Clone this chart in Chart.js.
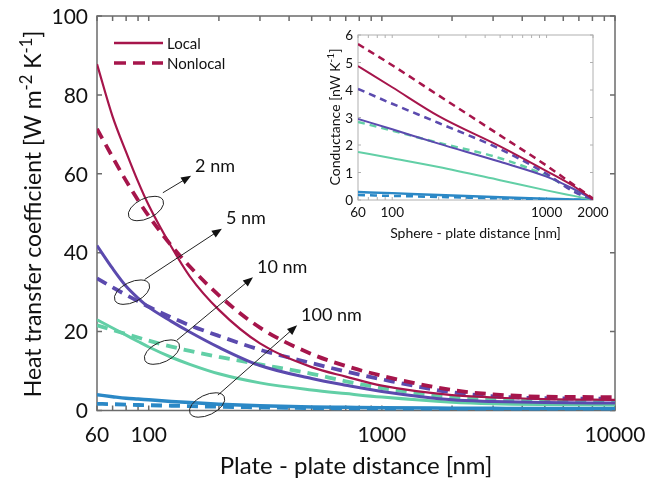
<!DOCTYPE html>
<html>
<head>
<meta charset="utf-8">
<script src="https://cdn.jsdelivr.net/npm/chart.js@4.4.1/dist/chart.umd.min.js"></script>
<style>
  body { margin: 0; background: #fff; }
  #wrap { position: relative; width: 650px; height: 483px; }
  #main { position: absolute; left: 0; top: 0; }
  #inset { position: absolute; left: 318px; top: 20px; }
</style>
</head>
<body>
<div id="wrap">
  <canvas id="main" width="650" height="483"></canvas>
  <canvas id="inset" width="332" height="228"></canvas>
</div>
<script>
// plate - plate distance [nm] and heat transfer coefficient [W m-2 K-1]
const distPlate = [60, 70, 80, 90, 100, 125, 150, 200, 300, 500, 700, 1000, 2000, 3000, 5000, 10000];
const local2nm    = [87.8, 74.5, 65.5, 58, 52, 41.5, 34, 25.5, 17, 11, 8.6, 6.3, 3.9, 3.3, 2.9, 2.7];
const nonlocal2nm = [71.4, 64.2, 58.2, 53.3, 49.3, 41.8, 36.5, 29.2, 21, 14.3, 11.3, 8.8, 5.2, 4.1, 3.5, 3.4];
const local5nm    = [41.8, 36, 31.5, 28.5, 26.2, 22.6, 19.9, 16, 11.4, 8.1, 6.4, 4.8, 2.7, 2.3, 2.0, 1.9];
const nonlocal5nm = [33.5, 31.2, 29.3, 27.7, 26.3, 23.6, 21.6, 18.9, 15.4, 12.0, 9.9, 7.9, 4.6, 3.6, 3.1, 3.0];
const local10nm    = [23, 20.9, 19.1, 17.5, 16.1, 13.5, 11.7, 9.3, 7.0, 5.2, 4.3, 3.4, 2.1, 1.7, 1.5, 1.4];
const nonlocal10nm = [21.6, 20.4, 19.4, 18.5, 17.7, 16.2, 15.1, 13.6, 11.7, 9.3, 7.4, 5.7, 3.4, 2.8, 2.5, 2.3];
const local100nm    = [4.0, 3.5, 3.1, 2.9, 2.7, 2.3, 2.0, 1.6, 1.2, 0.9, 0.8, 0.7, 0.6, 0.55, 0.5, 0.5];
const nonlocal100nm = [1.7, 1.6, 1.5, 1.4, 1.35, 1.2, 1.1, 0.95, 0.8, 0.6, 0.5, 0.45, 0.35, 0.3, 0.3, 0.3];

// sphere - plate distance [nm] and conductance [nW K-1]
const distSphere = [60, 100, 200, 500, 1000, 1500, 2000];
const gLocal2nm    = [4.87, 4.1, 3.05, 1.95, 1.05, 0.5, 0.03];
const gNonlocal2nm = [5.67, 4.9, 3.8, 2.35, 1.25, 0.55, 0.05];
const gLocal5nm    = [2.95, 2.57, 2.05, 1.39, 0.85, 0.4, 0.02];
const gNonlocal5nm = [4.04, 3.5, 2.8, 1.85, 0.95, 0.3, 0.02];
const gLocal10nm    = [1.75, 1.52, 1.2, 0.72, 0.35, 0.15, 0.01];
const gNonlocal10nm = [2.84, 2.52, 2.08, 1.52, 0.88, 0.35, 0.02];
const gLocal100nm    = [0.29, 0.25, 0.18, 0.1, 0.05, 0.02, 0];
const gNonlocal100nm = [0.18, 0.15, 0.11, 0.06, 0.03, 0.01, 0];

const sizes = ['2 nm', '5 nm', '10 nm', '100 nm'];
const colors = ['#a6154b', '#5b4aae', '#62cfa6', '#2b88c6'];
const mainSolidWidth = [2.2, 3, 3, 3.5];
const insetSolidWidth = [2, 2, 2, 2.5];

// ticks
const plateTicks = [60, 70, 80, 90, 100, 200, 300, 400, 500, 600, 700, 800, 900, 1000,
  2000, 3000, 4000, 5000, 6000, 7000, 8000, 9000, 10000];
const plateLabels = [60, 100, 1000, 10000];
const hTicks = [0, 20, 40, 60, 80, 100];
const sphereTicks = [60, 70, 80, 90, 100, 200, 300, 400, 500, 600, 700, 800, 900, 1000, 2000];
const sphereLabels = [60, 100, 1000, 2000];
const gTicks = [0, 1, 2, 3, 4, 5, 6];

// arrow annotations in data coords: ring centre, arrow tail, arrow head
const ringAt = [[97.3, 51.2], [84.8, 30], [114, 14.8], [178, 1.4]];
const arrowFrom = [[115, 55.2], [96, 33.2], [132, 17.8], [198, 3.9]];
const arrowTo = [[152, 59.5], [206, 46.1], [280, 33.8], [433, 21.6]];

Chart.defaults.font.family = 'Lato';
Chart.defaults.color = '#111';

const plateLocal = [local2nm, local5nm, local10nm, local100nm];
const plateNonlocal = [nonlocal2nm, nonlocal5nm, nonlocal10nm, nonlocal100nm];
const sphereLocal = [gLocal2nm, gLocal5nm, gLocal10nm, gLocal100nm];
const sphereNonlocal = [gNonlocal2nm, gNonlocal5nm, gNonlocal10nm, gNonlocal100nm];

function makeSets(xs, locals, nonlocals, wSolid, wDash, dash) {
  var sets = [];
  sizes.forEach((s, i) => {
    sets.push({
      label: s + ' local',
      data: xs.map((x, k) => ({x: x, y: locals[i][k]})),
      borderColor: colors[i], borderWidth: wSolid[i], pointRadius: 0,
      cubicInterpolationMode: 'monotone'
    });
    sets.push({
      label: s + ' nonlocal',
      data: xs.map((x, k) => ({x: x, y: nonlocals[i][k]})),
      borderColor: colors[i], borderWidth: wDash, borderDash: dash, pointRadius: 0,
      cubicInterpolationMode: 'monotone'
    });
  });
  return sets;
}

// frame, inward ticks and tick labels
const frameTicks = {
  id: 'frameTicks',
  beforeDatasetsDraw(chart, args, opts) {
    const {ctx, chartArea: a, scales: {x, y}} = chart;
    ctx.save();
    ctx.strokeStyle = opts.color;
    ctx.lineWidth = opts.width;
    ctx.strokeRect(a.left, a.top, a.right - a.left, a.bottom - a.top);
    ctx.beginPath();
    opts.xTicks.forEach(v => {
      const px = x.getPixelForValue(v);
      ctx.moveTo(px, a.bottom); ctx.lineTo(px, a.bottom - opts.len);
      ctx.moveTo(px, a.top); ctx.lineTo(px, a.top + opts.len);
    });
    opts.yTicks.forEach(v => {
      const py = y.getPixelForValue(v);
      ctx.moveTo(a.left, py); ctx.lineTo(a.left + opts.len, py);
      ctx.moveTo(a.right, py); ctx.lineTo(a.right - opts.len, py);
    });
    ctx.stroke();

    ctx.fillStyle = '#111';
    ctx.font = opts.fontSize + 'px Lato';
    ctx.textBaseline = 'middle';
    ctx.textAlign = 'center';
    opts.xLabels.forEach(v => {
      ctx.fillText(String(v), x.getPixelForValue(v), a.bottom + opts.xGap);
    });
    ctx.textAlign = 'right';
    opts.yTicks.forEach(v => {
      ctx.fillText(String(v), a.left - opts.yGap, y.getPixelForValue(v) + 1);
    });
    ctx.restore();
  }
};

// rotated y title with superscripts
const supTitle = {
  id: 'supTitle',
  afterDraw(chart, args, opts) {
    const ctx = chart.ctx;
    const sub = opts.size * 0.72;
    ctx.save();
    ctx.fillStyle = '#111';
    ctx.textBaseline = 'alphabetic';
    var w = 0;
    opts.parts.forEach(p => {
      ctx.font = (p[1] ? sub : opts.size) + 'px Lato';
      w += ctx.measureText(p[0]).width;
    });
    ctx.translate(opts.x, opts.y);
    ctx.rotate(-Math.PI / 2);
    var cx = -w / 2;
    const base = opts.size * 0.36;
    opts.parts.forEach(p => {
      ctx.font = (p[1] ? sub : opts.size) + 'px Lato';
      ctx.fillText(p[0], cx, p[1] ? base - opts.size * 0.42 : base);
      cx += ctx.measureText(p[0]).width;
    });
    ctx.restore();
  }
};

// Local / Nonlocal key
const keyLines = {
  id: 'keyLines',
  afterDraw(chart) {
    const ctx = chart.ctx;
    ctx.save();
    ctx.strokeStyle = colors[0];
    ctx.fillStyle = '#111';
    ctx.font = '15px Lato';
    ctx.textBaseline = 'middle';
    [['Local', [], 2.5, 43], ['Nonlocal', [12, 7], 3.5, 63]].forEach(k => {
      ctx.beginPath();
      ctx.setLineDash(k[1]);
      ctx.lineWidth = k[2];
      ctx.moveTo(114, k[3]); ctx.lineTo(163, k[3]);
      ctx.stroke();
      ctx.fillText(k[0], 167, k[3] + 1);
    });
    ctx.restore();
  }
};

// rings and arrows naming the nanoparticle size
const sizeArrows = {
  id: 'sizeArrows',
  afterDraw(chart) {
    const {ctx, scales: {x, y}} = chart;
    ctx.save();
    ctx.strokeStyle = '#222';
    ctx.fillStyle = '#111';
    ctx.lineWidth = 1;
    ctx.font = '18px Lato';
    ctx.textBaseline = 'middle';
    sizes.forEach((s, i) => {
      const rx = x.getPixelForValue(ringAt[i][0]), ry = y.getPixelForValue(ringAt[i][1]);
      const tx = x.getPixelForValue(arrowFrom[i][0]), ty = y.getPixelForValue(arrowFrom[i][1]);
      const hx = x.getPixelForValue(arrowTo[i][0]), hy = y.getPixelForValue(arrowTo[i][1]);
      ctx.beginPath();
      ctx.ellipse(rx, ry, 19, 10, -0.45, 0, Math.PI * 2);
      ctx.stroke();
      const ang = Math.atan2(hy - ty, hx - tx);
      ctx.beginPath();
      ctx.moveTo(tx, ty);
      ctx.lineTo(hx - 8 * Math.cos(ang), hy - 8 * Math.sin(ang));
      ctx.stroke();
      ctx.beginPath();
      ctx.moveTo(hx, hy);
      ctx.lineTo(hx - 10 * Math.cos(ang) + 4 * Math.sin(ang), hy - 10 * Math.sin(ang) - 4 * Math.cos(ang));
      ctx.lineTo(hx - 10 * Math.cos(ang) - 4 * Math.sin(ang), hy - 10 * Math.sin(ang) + 4 * Math.cos(ang));
      ctx.closePath();
      ctx.fill();
      ctx.fillText(s, hx + 4, hy - 10);
    });
    ctx.restore();
  }
};

new Chart(document.getElementById('main'), {
  type: 'line',
  data: { datasets: makeSets(distPlate, plateLocal, plateNonlocal, mainSolidWidth, 3.8, [11, 7]) },
  plugins: [frameTicks, supTitle, keyLines, sizeArrows],
  options: {
    responsive: false,
    animation: false,
    devicePixelRatio: 1,
    layout: { padding: { left: 0, top: 16, right: 35, bottom: 0 } },
    scales: {
      x: {
        type: 'logarithmic', min: 60, max: 10000,
        afterBuildTicks: s => { s.ticks = plateTicks.map(v => ({value: v})) },
        afterFit: s => { s.height = 72.5 },
        ticks: { display: false },
        grid: { display: false, drawTicks: false },
        border: { display: false },
        title: { display: true, text: 'Plate - plate distance [nm]', font: { size: 24 }, padding: { top: 0, bottom: 2 } }
      },
      y: {
        min: 0, max: 100,
        afterBuildTicks: s => { s.ticks = hTicks.map(v => ({value: v})) },
        afterFit: s => { s.width = 97 },
        ticks: { display: false },
        grid: { display: false, drawTicks: false },
        border: { display: false }
      }
    },
    plugins: {
      legend: { display: false },
      tooltip: { enabled: false },
      frameTicks: { color: '#6b6b6b', width: 1.5, len: 5, xTicks: plateTicks, yTicks: hTicks,
        xLabels: plateLabels, fontSize: 21, xGap: 25, yGap: 9 },
      supTitle: { x: 33, y: 214, size: 23,
        parts: [['Heat transfer coefficient [W m', 0], ['-2', 1], [' K', 0], ['-1', 1], [']', 0]] }
    }
  }
});

new Chart(document.getElementById('inset'), {
  type: 'line',
  data: { datasets: makeSets(distSphere, sphereLocal, sphereNonlocal, insetSolidWidth, 2.5, [7, 5]) },
  plugins: [frameTicks, supTitle],
  options: {
    responsive: false,
    animation: false,
    devicePixelRatio: 1,
    layout: { padding: { left: 0, top: 15, right: 57, bottom: 0 } },
    scales: {
      x: {
        type: 'logarithmic', min: 60, max: 2000,
        afterBuildTicks: s => { s.ticks = sphereTicks.map(v => ({value: v})) },
        afterFit: s => { s.height = 48 },
        ticks: { display: false },
        grid: { display: false, drawTicks: false },
        border: { display: false },
        title: { display: true, text: 'Sphere - plate distance [nm]', font: { size: 14 }, padding: { top: 0, bottom: 6 } }
      },
      y: {
        min: 0, max: 6,
        afterBuildTicks: s => { s.ticks = gTicks.map(v => ({value: v})) },
        afterFit: s => { s.width = 40 },
        ticks: { display: false },
        grid: { display: false, drawTicks: false },
        border: { display: false }
      }
    },
    plugins: {
      legend: { display: false },
      tooltip: { enabled: false },
      frameTicks: { color: '#b0b0b0', width: 1, len: 3, xTicks: sphereTicks, yTicks: gTicks,
        xLabels: sphereLabels, fontSize: 13.5, xGap: 13, yGap: 5 },
      supTitle: { x: 17, y: 97, size: 14,
        parts: [['Conductance [nW K', 0], ['-1', 1], [']', 0]] }
    }
  }
});
</script>
</body>
</html>
